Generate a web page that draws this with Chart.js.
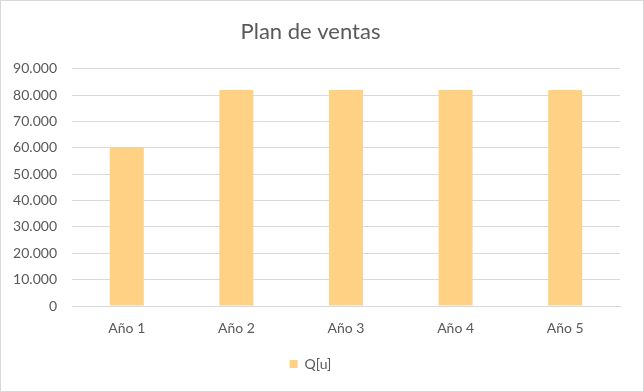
<!DOCTYPE html>
<html>
<head>
<meta charset="utf-8">
<script src="https://cdn.jsdelivr.net/npm/chart.js@4.4.0/dist/chart.umd.min.js"></script>
<style>
  html, body { margin: 0; padding: 0; background: #fff; }
  #frame { width: 644px; height: 392px; box-sizing: border-box; border: 1px solid #d9d9d9; }
  #wrap { width: 642px; height: 390px; position: relative; }
</style>
</head>
<body>
<div id="frame"><div id="wrap"><canvas id="c"></canvas></div></div>
<script>
// Sales plan: units per year
const categories = ['Año 1', 'Año 2', 'Año 3', 'Año 4', 'Año 5'];
const seriesName = 'Q[u]';
const units = [60000, 82000, 82000, 82000, 82000];
const yMax = 90000;
const yStep = 10000;

const textColor = '#595959';
const fontFamily = 'Lato, "Open Sans", sans-serif';

new Chart(document.getElementById('c'), {
  type: 'bar',
  data: {
    labels: categories,
    datasets: [{
      label: seriesName,
      data: units,
      backgroundColor: '#ffd185',
      borderWidth: 0,
      barPercentage: 0.62,
      categoryPercentage: 0.5
    }]
  },
  options: {
    responsive: true,
    maintainAspectRatio: false,
    animation: false,
    layout: { padding: { left: 0, right: 23, top: 0, bottom: 10 } },
    plugins: {
      title: {
        display: true,
        text: 'Plan de ventas',
        color: textColor,
        font: { family: fontFamily, size: 22, weight: 'normal' },
        padding: { top: 18, bottom: 23.4 }
      },
      legend: {
        display: true,
        position: 'bottom',
        labels: {
          color: textColor,
          font: { family: fontFamily, size: 14 },
          boxWidth: 8,
          boxHeight: 8,
          padding: 10
        }
      },
      tooltip: { enabled: false }
    },
    scales: {
      x: {
        grid: { display: false },
        border: { display: true, color: '#d9d9d9' },
        ticks: { color: textColor, font: { family: fontFamily, size: 14 }, padding: 6 },
        afterFit: s => { s.height = 41; }
      },
      y: {
        min: 0,
        max: yMax,
        ticks: {
          stepSize: yStep,
          color: textColor,
          font: { family: fontFamily, size: 14 },
          padding: 15,
          callback: v => v === 0 ? '0' : v.toLocaleString('de-DE')
        },
        grid: { color: '#d9d9d9', drawTicks: false },
        border: { display: false },
        afterFit: s => { s.width = 71; }
      }
    }
  }
});
</script>
</body>
</html>
